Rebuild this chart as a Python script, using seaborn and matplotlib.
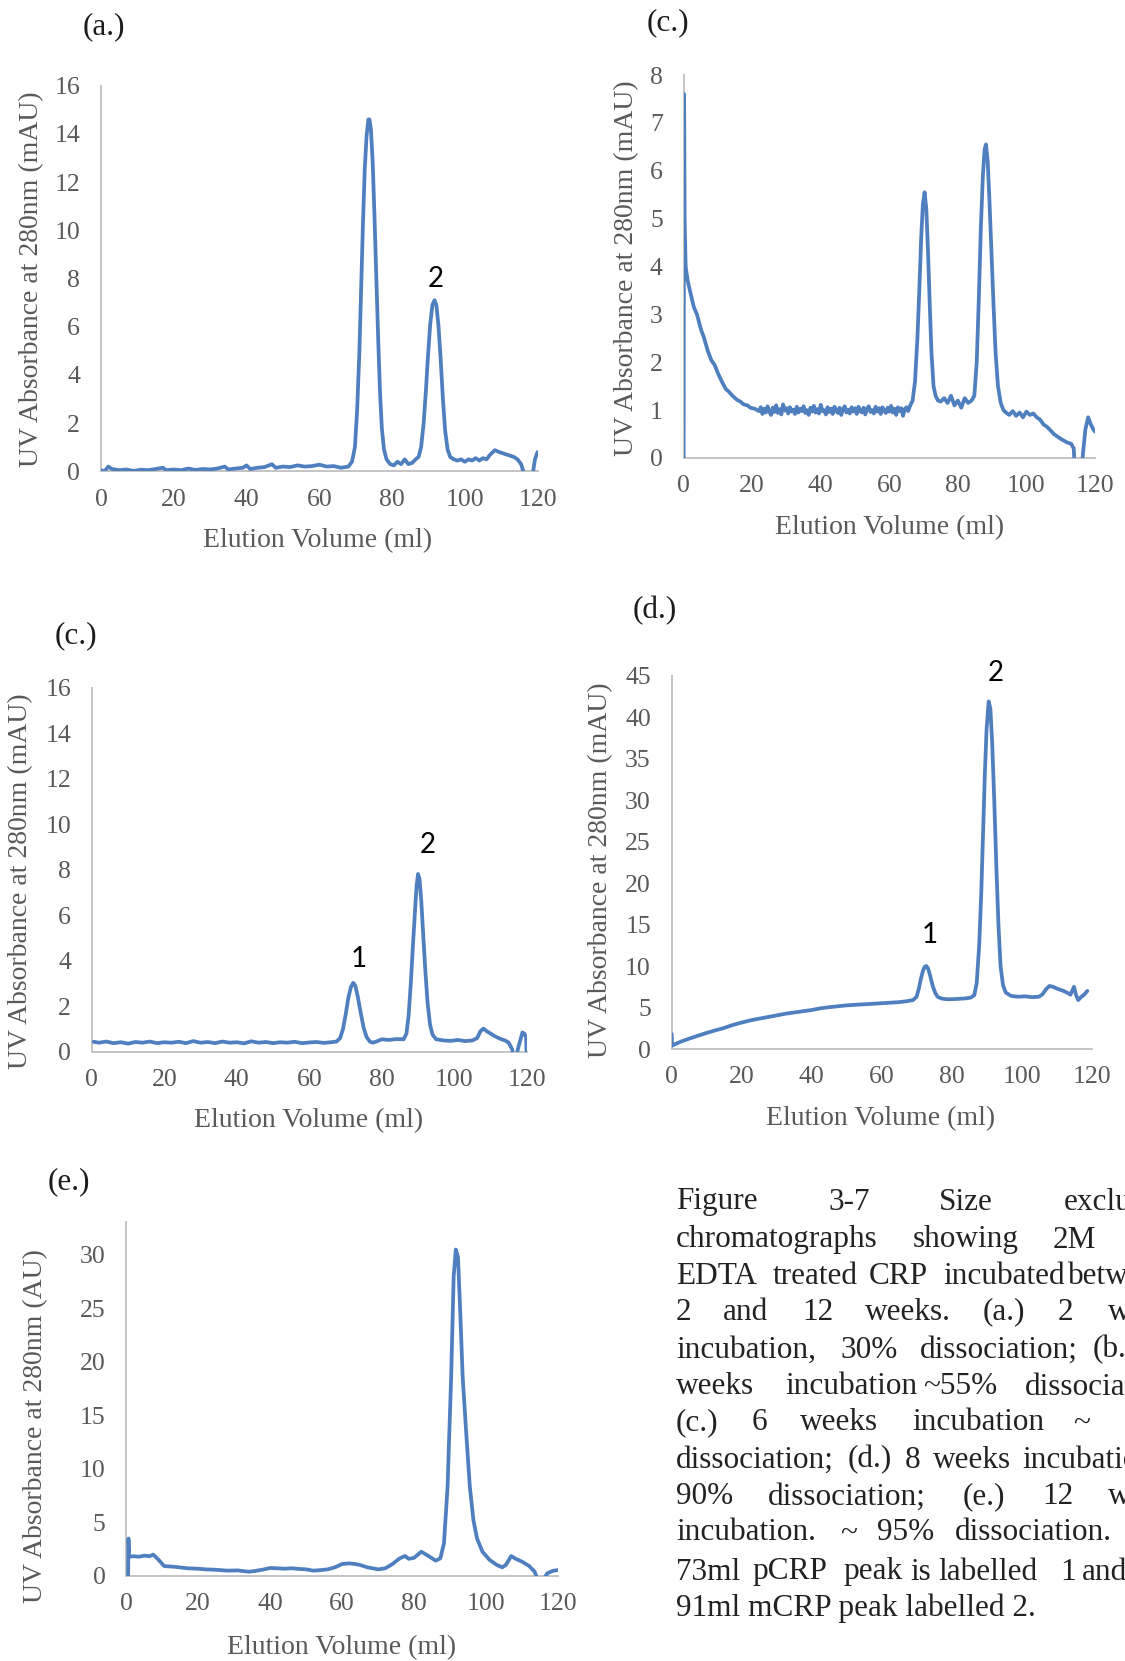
import matplotlib
matplotlib.use("Agg")
import matplotlib.pyplot as plt
import pandas as pd
import seaborn as sns

W, H = 1125, 1661

# ---------------- chromatogram traces (elution volume ml, absorbance) ----------------
# (a.) 2 weeks
vol_a = [0, 1, 2, 3, 5, 7, 9, 11, 13, 15, 17, 18, 20, 22, 24, 26, 28, 30, 32, 34, 35,
         37, 39, 40, 41, 43, 45, 47, 48, 50, 52, 54, 56, 58, 60, 62, 64, 66, 68, 69,
         69.8, 70.4, 71, 71.5, 72, 72.5, 73, 73.5, 73.8, 74.2, 74.7, 75.2, 75.7, 76.2,
         76.7, 77.2, 77.8, 78.5, 79.5, 80.5, 81.5, 82.5, 83.5, 84.5, 85.5, 86.5, 87.3,
         88, 88.7, 89.3, 89.9, 90.5, 91.1, 91.7, 92.2, 92.8, 93.4, 94, 94.6, 95.3, 96,
         97, 98, 99, 100, 101, 102, 103, 104, 105, 106, 107, 108.3, 109.5, 110.5, 111.5,
         112.5, 113.5, 114.5, 115.5, 116.5, 117.3, 118.2, 118.8, 119.3, 120]
abs_a = [0.05, 0.0, 0.2, 0.1, 0.05, 0.08, 0.02, 0.07, 0.05, 0.1, 0.15, 0.05, 0.08, 0.05,
         0.12, 0.06, 0.1, 0.08, 0.12, 0.2, 0.08, 0.12, 0.15, 0.25, 0.1, 0.15, 0.18, 0.3,
         0.15, 0.2, 0.18, 0.25, 0.2, 0.22, 0.28, 0.2, 0.22, 0.15, 0.2, 0.4, 1.0, 2.5, 4.8,
         7.5, 10.2, 12.5, 13.9, 14.6, 14.6, 14.2, 12.8, 10.5, 8.0, 5.5, 3.3, 1.8, 0.9, 0.5,
         0.3, 0.25, 0.4, 0.3, 0.5, 0.3, 0.35, 0.5, 0.6, 1.0, 2.0, 3.3, 4.8, 6.1, 6.9, 7.1,
         6.9, 6.0, 4.6, 3.0, 1.7, 0.9, 0.6, 0.5, 0.45, 0.5, 0.4, 0.5, 0.45, 0.55, 0.45,
         0.55, 0.5, 0.7, 0.88, 0.8, 0.75, 0.7, 0.65, 0.6, 0.5, 0.3, -0.2, -1.0, -1.0, 0.0,
         0.5, 0.8]

# (c.) upper right: void spike and decay, flat baseline, two peaks, tail
vol_b_head = [0, 0.15, 0.3, 0.6, 1.2, 2, 3, 3.9, 5, 6, 7, 8.1, 9, 10.2, 11, 12.3, 13,
              14.4, 15.5, 16.5, 17.5, 18.6, 19.5, 20.7]
abs_b_head = [0, 7.6, 5.0, 4.0, 3.7, 3.45, 3.15, 3.0, 2.7, 2.5, 2.25, 2.04, 1.95, 1.74,
              1.62, 1.44, 1.4, 1.29, 1.22, 1.18, 1.12, 1.1, 1.05, 1.03]
vol_b_flat = [v / 2 for v in range(44, 133)]          # 22.0 ... 66.0 ml
abs_b_flat = [0.98, 1.06, 0.92, 1.03, 0.95, 1.08, 0.97, 0.9, 1.05, 0.96, 1.1, 0.94,
              1.02, 0.91, 1.12, 0.99, 1.04, 0.93, 1.06, 0.97, 1.01, 0.92, 1.07, 0.95,
              1.03, 0.98, 1.08, 0.94, 1.0, 0.9, 1.05, 0.97, 1.09, 0.95, 1.02, 0.93, 1.11,
              0.98, 1.0, 0.91, 1.06, 0.96, 1.03, 0.92, 1.07, 0.99, 0.94, 1.05, 0.9, 1.02,
              1.08, 0.95, 1.01, 0.93, 1.06, 0.97, 1.04, 0.92, 1.07, 0.98, 0.95, 1.05,
              0.91, 1.03, 1.08, 0.96, 1.0, 0.93, 1.07, 0.97, 1.04, 0.92, 1.06, 0.99, 0.94,
              1.05, 0.97, 1.09, 0.95, 1.03, 0.9, 1.06, 0.98, 1.04, 0.88, 1.02, 1.06, 0.98,
              1.08]
vol_b_tail = [66.8, 67.5, 68.2, 68.8, 69.3, 69.8, 70.3, 70.8, 71.3, 71.8, 72.3, 72.9,
              73.5, 74.2, 75, 76, 77, 78, 79, 80, 81, 82, 83, 84, 84.8, 85.5, 86.1, 86.7,
              87.3, 87.8, 88.2, 88.7, 89.2, 89.8, 90.4, 91, 91.7, 92.5, 93.3, 94, 95, 96,
              97, 98, 99, 100, 101, 102, 103, 104, 105, 106, 107, 108, 109, 110, 111, 112,
              113, 113.8, 114.5, 115.5, 116.5, 117.2, 118, 118.8, 119.5, 120]
abs_b_tail = [1.2, 1.6, 2.5, 3.6, 4.6, 5.3, 5.55, 5.2, 4.3, 3.2, 2.2, 1.5, 1.3, 1.2, 1.18,
              1.25, 1.15, 1.3, 1.1, 1.2, 1.05, 1.25, 1.15, 1.2,
              1.3, 2.0, 3.3, 4.8, 5.9, 6.45, 6.55, 6.2, 5.4, 4.3, 3.2, 2.2, 1.5, 1.15, 1.0,
              0.95, 0.9, 0.98, 0.88, 0.95, 0.85, 0.97, 0.9, 0.93, 0.85, 0.8, 0.7, 0.65,
              0.58, 0.5, 0.45, 0.4, 0.36, 0.32, 0.3,
              0.2, -0.8, -0.8, 0.1, 0.6, 0.85, 0.7, 0.6, 0.55]

# (c.) lower left
vol_c = [0.5, 2, 4, 6, 8, 10, 12, 14, 16, 18, 20, 22, 24, 26, 28, 30, 32, 34, 36, 38, 40,
         42, 44, 46, 48, 50, 52, 54, 56, 58, 60, 62, 64, 66, 67.5, 68.5, 69.3, 70.1, 70.8,
         71.5, 72.1, 72.7, 73.4, 74.2, 75, 75.8, 76.7, 77.5, 78.5, 80, 82, 84, 86, 86.8,
         87.4, 88, 88.6, 89.2, 89.6, 90, 90.4, 90.9, 91.4, 92, 92.6, 93.3, 94, 95, 97, 99,
         101, 103, 105, 106.3, 107.2, 108, 109, 110, 111, 112, 113, 114, 115, 116, 116.7,
         117.5, 118.8, 119.3, 119.8, 120]
abs_c = [0.44, 0.4, 0.45, 0.38, 0.42, 0.36, 0.43, 0.4, 0.45, 0.38, 0.42, 0.4, 0.44, 0.38,
         0.47, 0.4, 0.43, 0.38, 0.45, 0.4, 0.42, 0.37, 0.46, 0.4, 0.43, 0.38, 0.42, 0.4,
         0.44, 0.38, 0.41, 0.43, 0.39, 0.42, 0.45, 0.6, 1.0, 1.7, 2.4, 2.85, 3.03, 2.9,
         2.4, 1.7, 1.05, 0.65, 0.45, 0.4, 0.45, 0.55, 0.52, 0.56, 0.55, 0.8, 1.6, 3.0, 4.7,
         6.3, 7.3, 7.81, 7.6, 6.6, 5.2, 3.6, 2.2, 1.2, 0.75, 0.55, 0.5, 0.48, 0.52, 0.47,
         0.5, 0.6, 0.9, 1.02, 0.9, 0.8, 0.7, 0.62, 0.55, 0.5, 0.4, 0.1, -0.8, 0.1, 0.85,
         0.8, 0.65, -0.5]

# (d.) 8 weeks
vol_d = [0, 0.1, 1, 3, 5, 7.5, 10, 12.5, 15, 17.5, 20, 22.5, 25, 27.5, 30, 32.5, 35,
         37.5, 40, 42.5, 45, 47.5, 50, 52.5, 55, 57.5, 60, 62.5, 65, 67, 69, 70, 70.6,
         71.2, 71.8, 72.3, 72.8, 73.3, 73.9, 74.6, 75.3, 76, 77, 78.5, 80, 82, 84, 85.5,
         86.5, 87.2, 87.9, 88.5, 89, 89.5, 90, 90.6, 91.1, 91.6, 92.2, 92.8, 93.4, 94,
         94.7, 95.5, 97, 99, 101, 103, 105, 106, 107, 108, 109, 110, 111, 112, 113, 114,
         115, 115.6, 116.2, 117, 118, 118.8]
abs_d = [1.8, 0.4, 0.6, 0.95, 1.25, 1.6, 1.94, 2.25, 2.54, 2.9, 3.19, 3.45, 3.66, 3.85,
         4.05, 4.25, 4.4, 4.55, 4.7, 4.9, 5.04, 5.15, 5.26, 5.33, 5.39, 5.45, 5.52, 5.58,
         5.65, 5.75, 5.9, 6.3, 7.2, 8.4, 9.4, 9.9, 10.0, 9.7, 8.8, 7.6, 6.8, 6.3, 6.1, 6.0,
         6.0, 6.05, 6.1, 6.2, 6.5, 8.0, 12.5, 19.0, 26.0, 33.0, 38.5, 41.9, 41.0, 37.0,
         30.0, 22.0, 15.0, 10.0, 7.7, 6.8, 6.4, 6.3, 6.35, 6.25, 6.3, 6.6, 7.2, 7.6, 7.5,
         7.3, 7.15, 7.0, 6.8, 6.55, 7.5, 6.5, 5.9, 6.25, 6.6, 7.0]

# (e.) 12 weeks
vol_e = [0.5, 0.6, 0.8, 2, 3.5, 5, 6.5, 7.5, 9, 10.5, 13, 15, 17, 20, 22, 25, 28, 31, 34,
         36, 38, 40, 42, 44, 46, 48, 50, 52, 54, 56, 58, 60, 62, 64, 65, 67, 70, 72, 74,
         76, 77.5, 78.5, 80, 82, 84, 86, 87.3, 88.3, 89.3, 90.3, 91, 91.6, 92.2, 92.8,
         93.5, 94.5, 95.5, 96.5, 97.5, 99, 101, 103, 104.5, 105.5, 107, 108, 110, 112,
         113.5, 114.5, 116, 117, 118.5, 120]
abs_e = [0.0, 3.5, 1.8, 1.85, 1.8, 1.9, 1.85, 2.0, 1.5, 0.93, 0.87, 0.8, 0.72, 0.68, 0.62,
         0.58, 0.5, 0.52, 0.4, 0.48, 0.6, 0.75, 0.72, 0.68, 0.72, 0.66, 0.62, 0.5, 0.55,
         0.62, 0.81, 1.12, 1.18, 1.1, 1.03, 0.81, 0.62, 0.72, 1.12, 1.65, 1.87, 1.6, 1.7,
         2.27, 1.87, 1.43, 1.65, 3.05, 8.3, 18.6, 28.0, 30.5, 29.8, 24.9, 18.6, 13.3, 8.3,
         5.2, 3.5, 2.27, 1.5, 1.03, 0.81, 1.03, 1.87, 1.65, 1.34, 0.93, 0.4, -0.44, -0.37,
         0.25, 0.47, 0.56]

x_ticks = [0, 20, 40, 60, 80, 100, 120]
y_ticks_a = [0, 2, 4, 6, 8, 10, 12, 14, 16]
y_ticks_b = [0, 1, 2, 3, 4, 5, 6, 7, 8]
y_ticks_c = [0, 2, 4, 6, 8, 10, 12, 14, 16]
y_ticks_d = [0, 5, 10, 15, 20, 25, 30, 35, 40, 45]
y_ticks_e = [0, 5, 10, 15, 20, 25, 30]

x_title = "Elution Volume (ml)"
y_title = "UV Absorbance at 280nm (mAU)"
y_title_e = "UV Absorbance at 280nm (AU)"

# caption, one justified line per entry: (left x in px, word)
caption_lines = [
    [(676, "Figure"), (828, "3-7"), (939, "Size"), (1064, "exclusion")],
    [(676, "chromatographs"), (913, "showing"), (1053, "2M")],
    [(676, "EDTA"), (773, "treated"), (869, "CRP"), (943, "incubated"), (1068, "between")],
    [(676, "2"), (723, "and"), (802, "12"), (865, "weeks."), (983, "(a.)"), (1058, "2"),
     (1108, "weeks")],
    [(676, "incubation,"), (840, "30%"), (920, "dissociation;"), (1093, "(b.)")],
    [(676, "weeks"), (785, "incubation"), (923, "~55%"), (1025, "dissociation;")],
    [(676, "(c.)"), (752, "6"), (800, "weeks"), (912, "incubation"), (1073, "~")],
    [(676, "dissociation;"), (848, "(d.)"), (905, "8"), (933, "weeks"), (1022, "incubation")],
    [(676, "90%"), (768, "dissociation;"), (963, "(e.)"), (1042, "12"), (1108, "weeks")],
    [(676, "incubation."), (840, "~"), (877, "95%"), (955, "dissociation.")],
    [(676, "73ml"), (752, "pCRP"), (843, "peak"), (910, "is"), (938, "labelled"),
     (1060, "1"), (1082, "and")],
    [(676, "91ml mCRP peak labelled 2.")],
]
caption_y = [1202, 1240, 1276, 1312, 1350, 1387, 1423, 1460, 1497, 1533, 1572, 1608]

# ---------------- styling ----------------
sns.set_theme(style="white")
plt.rcParams["font.family"] = ["Liberation Serif", "DejaVu Serif"]

LINE = "#4F7FBE"
AXIS = "#C4C4C4"
TICK = "#595959"
INK = "#1C1C1C"

fig = plt.figure(figsize=(W / 100, H / 100), dpi=100)
fig.patch.set_facecolor("white")


def fxy(x, y):
    return x / W, 1 - y / H


def panel(x0, x1, ytop, y0, vol, absorb, ymax, yticks):
    ax = fig.add_axes([x0 / W, 1 - y0 / H, (x1 - x0) / W, (y0 - ytop) / H])
    df = pd.DataFrame({"vol": vol, "absorb": absorb})
    sns.lineplot(data=df, x="vol", y="absorb", ax=ax, sort=False, estimator=None,
                 color=LINE, linewidth=2.7, zorder=3)
    ax.set_xlim(0, 120)
    ax.set_ylim(0, ymax)
    ax.set_xticks(x_ticks)
    ax.set_yticks(yticks)
    ax.set_xlabel("")
    ax.set_ylabel("")
    ax.grid(False)
    ax.patch.set_alpha(0)
    for s in ("top", "right"):
        ax.spines[s].set_visible(False)
    for s in ("left", "bottom"):
        ax.spines[s].set_color(AXIS)
        ax.spines[s].set_linewidth(1.4)
        ax.spines[s].set_zorder(1)
    ax.tick_params(axis="both", length=0, labelsize=18.5, labelcolor=TICK)
    ax.tick_params(axis="y", pad=15)
    ax.tick_params(axis="x", pad=12.5)
    return ax


def titles(xl, yl, tag, ytext=y_title):
    fig.text(*fxy(*xl), x_title, ha="center", va="center", fontsize=20, color=TICK)
    fig.text(*fxy(*yl), ytext, ha="center", va="center", rotation=90, fontsize=20,
             color=TICK)
    fig.text(*fxy(*tag[:2]), tag[2], ha="center", va="center", fontsize=22.5, color=INK)


def peak_label(x, y, s):
    fig.text(*fxy(x, y), s, ha="center", va="center", fontsize=20, color="black",
             family=["Lato", "DejaVu Sans"])


# (a.)
panel(101, 537.5, 85.7, 471.4, vol_a, abs_a, 16, y_ticks_a)
titles((318, 541), (32, 279), (104, 27, "(a.)"))
peak_label(436, 279, "2")

# (c.) upper right
panel(683.6, 1095, 75, 458, vol_b_head + vol_b_flat + vol_b_tail,
      abs_b_head + abs_b_flat + abs_b_tail, 8, y_ticks_b)
titles((890, 528), (627, 268), (668, 23, "(c.)"))

# (c.) lower left
panel(91.8, 526.8, 687.5, 1051.8, vol_c, abs_c, 16, y_ticks_c)
titles((309, 1121), (21, 881), (76, 636, "(c.)"))
peak_label(359, 959, "1")
peak_label(428, 845, "2")

# (d.)
panel(671.7, 1091.5, 675.7, 1049, vol_d, abs_d, 45, y_ticks_d)
titles((881, 1119), (601, 870), (655, 611, "(d.)"))
peak_label(930, 935, "1")
peak_label(996, 673, "2")

# (e.)
panel(126.3, 558, 1221.7, 1576, vol_e, abs_e, 33.1, y_ticks_e)
titles((342, 1648), (36, 1426), (69, 1182, "(e.)"), ytext=y_title_e)

# figure caption, justified word by word
for yline, words in zip(caption_y, caption_lines):
    for xw, w in words:
        fig.text(*fxy(xw, yline), w, ha="left", va="center", fontsize=22.5,
                 color="#222222")

fig.savefig("out.png", dpi=100, facecolor="white")
